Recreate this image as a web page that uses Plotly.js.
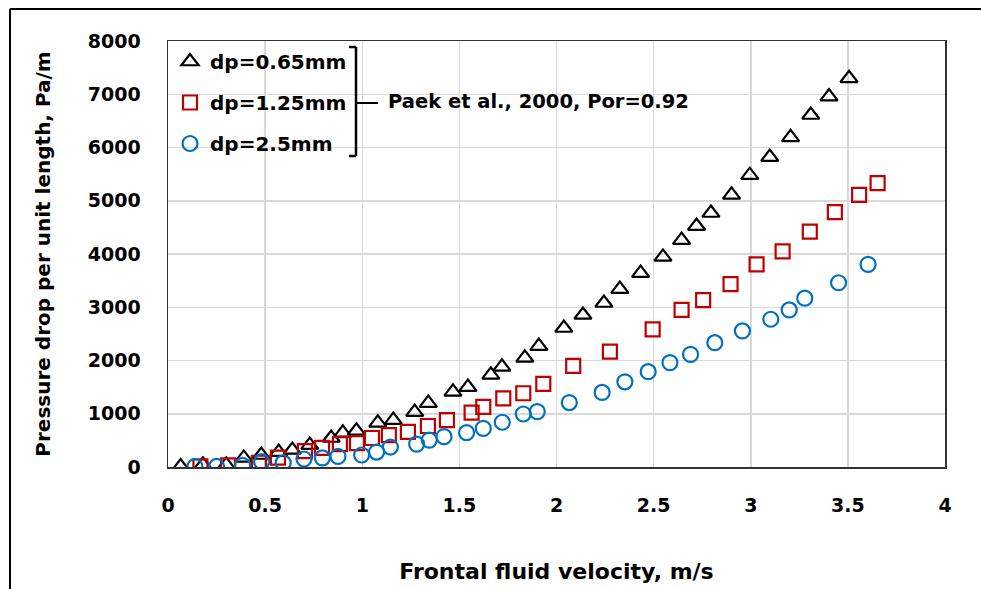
<!DOCTYPE html>
<html>
<head>
<meta charset="utf-8">
<script src="https://cdn.plot.ly/plotly-3.0.1.min.js"></script>
<style>
html,body{margin:0;padding:0;background:#fff;}
#chart{width:981px;height:589px;}
</style>
</head>
<body>
<div id="chart"></div>
<script>
// dp = 0.65 mm (triangles)
const x065 = [0.065,0.18,0.30,0.39,0.48,0.57,0.64,0.73,0.84,0.90,0.97,1.08,1.16,1.27,1.34,1.467,1.544,1.662,1.719,1.837,1.909,2.038,2.136,2.244,2.326,2.433,2.548,2.644,2.721,2.795,2.901,2.995,3.098,3.205,3.309,3.403,3.506];
const y065 = [10,40,40,170,225,280,320,410,545,640,680,830,880,1030,1200,1410,1500,1730,1880,2050,2270,2610,2855,3080,3340,3640,3945,4260,4525,4770,5110,5480,5820,6190,6610,6955,7300];
// dp = 1.25 mm (squares)
const x125 = [0.167,0.309,0.468,0.566,0.705,0.793,0.885,0.973,1.05,1.137,1.235,1.338,1.436,1.563,1.623,1.726,1.829,1.932,2.086,2.275,2.495,2.644,2.755,2.896,3.030,3.164,3.304,3.433,3.558,3.653];
const y125 = [10,30,80,175,300,360,430,450,545,600,660,770,880,1020,1130,1290,1385,1560,1900,2165,2585,2950,3135,3435,3805,4050,4420,4785,5110,5330];
// dp = 2.5 mm (circles)
const x25 = [0.139,0.25,0.384,0.482,0.593,0.70,0.795,0.875,0.997,1.074,1.145,1.28,1.345,1.421,1.537,1.623,1.721,1.829,1.901,2.066,2.235,2.352,2.472,2.584,2.690,2.815,2.957,3.103,3.198,3.278,3.452,3.604];
const y25 = [10,10,30,100,80,150,170,200,225,280,375,430,505,570,645,725,840,995,1040,1210,1400,1600,1790,1960,2115,2335,2555,2775,2950,3170,3460,3805];

const seriesNames = ['dp=0.65mm','dp=1.25mm','dp=2.5mm'];
const xTitle = 'Frontal fluid velocity, m/s';
const yTitle = 'Pressure drop per unit length, Pa/m';
const noteText = 'Paek et al., 2000, Por=0.92';

const FONT = 'DejaVu Sans, Liberation Sans, sans-serif';

const traces = [
  {x:x065, y:y065, name:seriesNames[0], legendgroup:'a', type:'scatter', mode:'markers',
   marker:{symbol:'triangle-up-open', size:15, color:'#000000', line:{width:2.2, color:'#000000'}}},
  {x:x125, y:y125, name:seriesNames[1], legendgroup:'b', type:'scatter', mode:'markers',
   marker:{symbol:'square-open', size:14, color:'#C00000', line:{width:2.2, color:'#C00000'}}},
  {x:x25, y:y25, name:seriesNames[2], legendgroup:'c', type:'scatter', mode:'markers',
   marker:{symbol:'circle-open', size:15, color:'#0070C0', line:{width:2.2, color:'#0070C0'}}}
];

// pixel helpers for paper coordinates of decorations
const L=168, R=945, T=41, B=467;
const px = v => (v-L)/(R-L);
const py = v => (B-v)/(B-T);

const lineStyle = {color:'#000', width:2.5};
const shapes = [
  // outer frame
  {type:'line', xref:'paper', yref:'paper', x0:px(10), x1:px(10), y0:py(9), y1:py(600), line:{color:'#000', width:2}},
  {type:'line', xref:'paper', yref:'paper', x0:px(10), x1:px(990), y0:py(9), y1:py(9), line:{color:'#000', width:2}},
  // bracket
  {type:'line', xref:'paper', yref:'paper', x0:px(356), x1:px(356), y0:py(47), y1:py(156), line:lineStyle},
  {type:'line', xref:'paper', yref:'paper', x0:px(349), x1:px(356), y0:py(47), y1:py(47), line:lineStyle},
  {type:'line', xref:'paper', yref:'paper', x0:px(349), x1:px(356), y0:py(156), y1:py(156), line:lineStyle},
  {type:'line', xref:'paper', yref:'paper', x0:px(356), x1:px(378), y0:py(103), y1:py(103), line:{color:'#000', width:2}}
];

const layout = {
  width:981, height:589,
  margin:{l:L, r:981-R, t:T, b:589-B},
  paper_bgcolor:'#fff', plot_bgcolor:'#fff',
  font:{family:FONT, color:'#000', size:19, weight:'bold'},
  showlegend:true,
  legend:{x:px(170), y:py(42), xanchor:'left', yanchor:'top', bgcolor:'rgba(0,0,0,0)',
          font:{family:FONT, size:20, color:'#000', weight:'bold'}, tracegroupgap:12, itemsizing:'trace'},
  xaxis:{range:[0,4], dtick:0.5, tick0:0, showgrid:true, gridcolor:'#d9d9d9', gridwidth:1.5,
         zeroline:false, showline:true, linecolor:'#333', linewidth:1.5, mirror:true,
         ticks:'', ticklabelstandoff:21,
         tickfont:{family:FONT, size:19, color:'#000', weight:'bold'},
         title:{text:xTitle, standoff:48, font:{family:FONT, size:22, color:'#000', weight:'bold'}}},
  yaxis:{range:[0,8000], dtick:1000, tick0:0, tickformat:'d', showgrid:true, gridcolor:'#d9d9d9', gridwidth:1.5,
         zeroline:false, showline:true, linecolor:'#333', linewidth:1.5, mirror:true,
         ticks:'', ticklabelstandoff:22,
         tickfont:{family:FONT, size:19, color:'#000', weight:'bold'},
         title:{text:yTitle, standoff:32, font:{family:FONT, size:20, color:'#000', weight:'bold'}}},
  shapes:shapes,
  annotations:[
    {xref:'paper', yref:'paper', x:px(386), y:py(102), xanchor:'left', yanchor:'middle', showarrow:false,
     text:noteText, font:{family:FONT, size:19.5, color:'#000', weight:'bold'}}
  ]
};

Plotly.newPlot('chart', traces, layout, {displayModeBar:false, staticPlot:true});
</script>
</body>
</html>
